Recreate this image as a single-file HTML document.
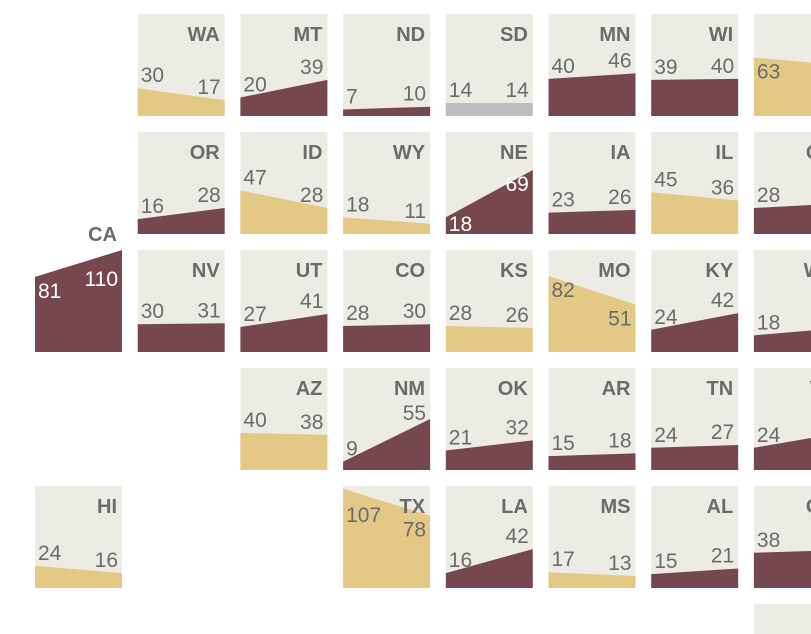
<!DOCTYPE html>
<html><head><meta charset="utf-8">
<style>
html,body{margin:0;padding:0;background:#fff;width:811px;height:634px;overflow:hidden}
svg{display:block;font-family:"Liberation Sans",sans-serif;overflow:hidden}
</style></head>
<body>
<svg id="chart" width="811" height="634" viewBox="0 0 811 634"></svg>
<script>
const states = ["WA","MT","ND","SD","MN","WI","MI","OR","ID","WY","NE","IA","IL","OH","CA","NV","UT","CO","KS","MO","KY","WV","AZ","NM","OK","AR","TN","VA","HI","TX","LA","MS","AL","GA"];
const cols =   [1,2,3,4,5,6,7, 1,2,3,4,5,6,7, 0,1,2,3,4,5,6,7, 2,3,4,5,6,7, 0,3,4,5,6,7];
const rows =   [0,0,0,0,0,0,0, 1,1,1,1,1,1,1, 2,2,2,2,2,2,2,2, 3,3,3,3,3,3, 4,4,4,4,4,4];
const startVals = [30,20,7,14,40,39,63, 16,47,18,18,23,45,28, 81,30,27,28,28,82,24,18, 40,9,21,15,24,24, 24,107,16,17,15,38];
const endVals =   [17,39,10,14,46,40,55, 28,28,11,69,26,36,33, 110,31,41,30,26,51,42,26, 38,55,32,18,27,40, 16,78,42,13,21,41];
const whiteInside = ["CA","NE"];
const belowGray = ["TX","MO"];
const nameAbove = ["CA"];
const clampTop = ["NM"];

const X0=35, DX=102.7, W=87, Y0=14, DY=118, H=102, K=0.927;
const svg=document.getElementById('chart');
const NS="http://www.w3.org/2000/svg";
function mk(t,a){const e=document.createElementNS(NS,t);for(const k in a)e.setAttribute(k,a[k]);return e;}
function xs(c){return X0+c*DX;}
function ys(r){return Y0+r*DY;}
function vy(r,v){return ys(r)+H-v*K;}

const blank=mk('rect',{x:xs(7),y:ys(5),width:W,height:30,fill:'#ecebe4'});


svg.appendChild(blank);

states.forEach((s,i)=>{
  const x=xs(cols[i]), y=ys(rows[i]), a=startVals[i], b=endVals[i];
  const g=mk('g',{});
  
  
  const bg=mk('rect',{x:x,y:y,width:W,height:H,fill:'#ecebe4'});
  
  
  if(nameAbove.includes(s)) bg.setAttribute('fill','none');
  g.appendChild(bg);
  const ya=vy(rows[i],a), yb=vy(rows[i],b);
  const col = b>a ? '#76474f' : (b<a ? '#e3c985' : '#bdbdbd');
  const poly=mk('polygon',{points:`${x},${ya} ${x+W},${yb} ${x+W},${y+H} ${x},${y+H}`,fill:col});
  
  
  g.appendChild(poly);
  const ny = nameAbove.includes(s) ? Math.min(ya,yb)-9 : y+27;
  const nm=mk('text',{x:x+W-5,y:ny,'text-anchor':'end','font-size':20,'font-weight':'bold',fill:'#6b6b6b'});
  nm.textContent=s;
  
  
  g.appendChild(nm);
  [[a,ya,x+3,'start','start-value'],[b,yb,x+W-4,'end','end-value']].forEach(([v,ly,tx,anc,name])=>{
    let by=ly-6, fill='#6b6b6b';
    if(whiteInside.includes(s)){by=Math.max(ly+21,y+36);fill='#fff';}
    else if(belowGray.includes(s)||by-14<y+28){by=Math.max(ly+21,y+36); fill = b>a ? '#fff':'#6b6b6b';}
    else if(clampTop.includes(s)){by=Math.max(by,y+52);}
    if(by>y+H-3)by=y+H-3;
    const t=mk('text',{x:tx,y:by,'text-anchor':anc,'font-size':21,fill:fill});
    t.textContent=v;
    
    
    g.appendChild(t);
  });
  svg.appendChild(g);
});
</script>
</body></html>
